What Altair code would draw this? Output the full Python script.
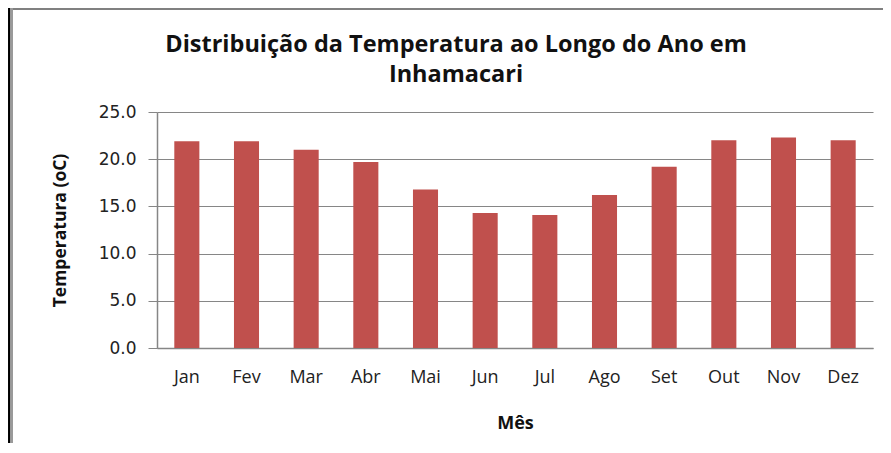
import altair as alt
import pandas as pd

meses = ["Jan", "Fev", "Mar", "Abr", "Mai", "Jun", "Jul", "Ago", "Set", "Out", "Nov", "Dez"]
temperatura = [21.9, 21.9, 21.0, 19.7, 16.8, 14.3, 14.1, 16.2, 19.2, 22.0, 22.3, 22.0]
y_ticks = [0, 5, 10, 15, 20, 25]

df = pd.DataFrame({"Mes": meses, "Temp": temperatura})

bars = alt.Chart(df).mark_bar(color="#C0504D").encode(
    x=alt.X("Mes:N", sort=meses,
            scale=alt.Scale(paddingInner=0.58, paddingOuter=0.29),
            axis=alt.Axis(title="Mês", labelAngle=0, ticks=False,
                          labelFont="Open Sans", labelFontSize=18, labelColor="#222222",
                          labelPadding=20, domainColor="#868686", domainWidth=1.5,
                          titleFont="Open Sans", titleFontSize=18, titleFontWeight="bold",
                          titleColor="#111111", titleY=75, titleBaseline="middle")),
    y=alt.Y("Temp:Q", scale=alt.Scale(domain=[0, 25], nice=False),
            axis=alt.Axis(title="Temperatura (oC)", values=y_ticks, format=".1f",
                          tickSize=9, tickColor="#868686", labelPadding=12,
                          labelFont="DejaVu Sans", labelFontSize=17, labelColor="#222222",
                          domainColor="#868686", domainWidth=1.5,
                          gridColor="#868686", gridWidth=1.2,
                          titleFont="Open Sans", titleFontSize=17.5, titleFontWeight="bold",
                          titleColor="#111111", titleX=-97, titleY=118,
                          titleBaseline="middle", titleAngle=-90)),
)

frame_top = alt.Chart(df).mark_rule(color="#808080", strokeWidth=2).encode(
    x=alt.value(-148), x2=alt.value(740), y=alt.value(-103))
frame_left_dark = alt.Chart(df).mark_rule(color="#000000", strokeWidth=1.5).encode(
    x=alt.value(-147.5), y=alt.value(-104), y2=alt.value(345))
frame_left_gray = alt.Chart(df).mark_rule(color="#9a9a9a", strokeWidth=2).encode(
    x=alt.value(-145.5), y=alt.value(-104), y2=alt.value(345))

chart = alt.layer(bars, frame_top, frame_left_dark, frame_left_gray).properties(
    width=716, height=236,
    autosize=alt.AutoSizeParams(type="none"),
    padding={"left": 149, "top": 104, "right": 10, "bottom": 95},
    title=alt.TitleParams(
        text=["Distribuição da Temperatura ao Longo do Ano em", "Inhamacari"],
        font="Open Sans", fontSize=23.5, fontWeight="bold", color="#111111",
        anchor="middle", dx=-59, offset=0, dy=98, lineHeight=30, baseline="alphabetic"),
).configure_view(stroke=None)

chart.save("out.html", embed_options={"renderer": "svg", "actions": False})
